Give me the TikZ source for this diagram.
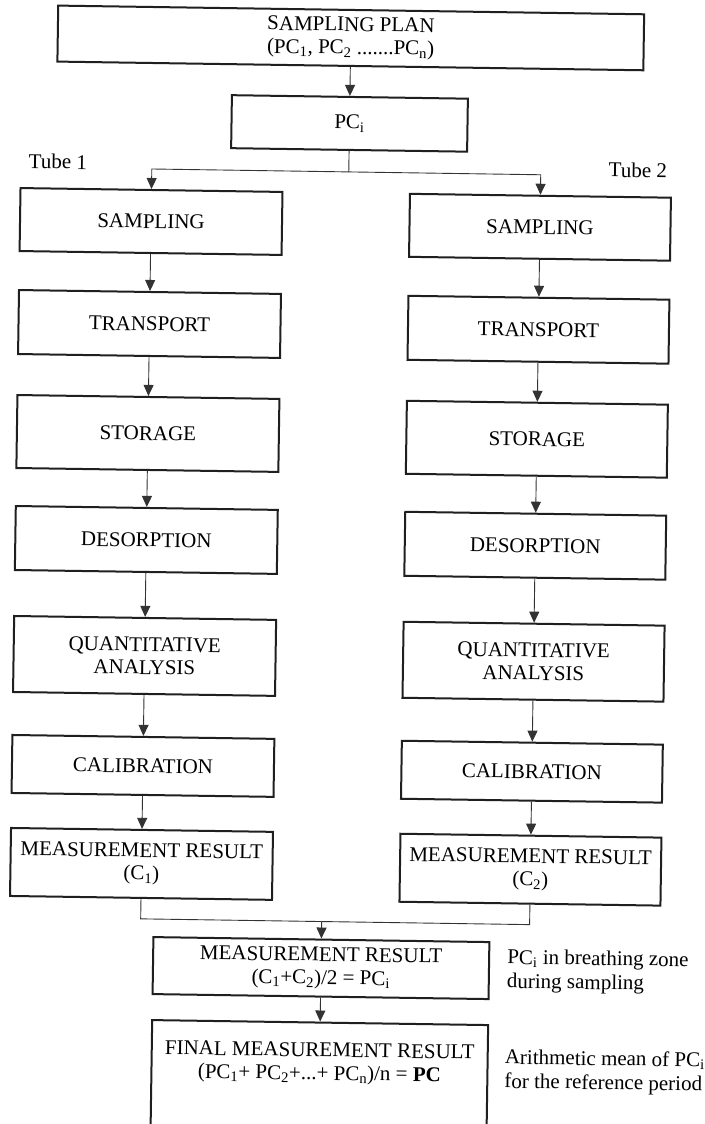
\documentclass[tikz,border=0pt]{standalone}
\usepackage{fontspec}
\setmainfont{Liberation Serif}
\usetikzlibrary{arrows.meta}
\newcommand{\sbx}[1]{\textsubscript{#1}}
\begin{document}
\begin{tikzpicture}[x=1pt,y=-1pt,
  box/.style={draw=black!88, line width=2pt, rectangle, inner sep=0pt, align=center,
              font=\fontsize{21}{23}\selectfont},
  arr/.style={draw=black!80, line width=0.9pt, -{Triangle[width=10pt,length=11pt]}},
  ln/.style={draw=black!80, line width=0.9pt},
  note/.style={font=\fontsize{21}{24}\selectfont, align=left, inner sep=0pt, anchor=west},
  lbl/.style={font=\fontsize{21}{23}\selectfont, inner sep=0pt}]
\fill[white] (0,0) rectangle (704,1124);
\useasboundingbox (0,0) rectangle (704,1124);
\clip (0,0) rectangle (704,1124);
\begin{scope}[rotate around={-0.85:(352,562)}, transform shape]
% top
\node[box, minimum width=586pt, minimum height=56pt] (top) at (343,38)
  {SAMPLING PLAN\\(PC\sbx{1}, PC\sbx{2} .......PC\sbx{n})};
\node[box, minimum width=236pt, minimum height=53pt] (pci) at (343,123.5) {PC\sbx{i}};
\node[lbl] (tube1) at (52,166) {Tube 1};
\node[lbl] (tube2) at (632,166) {Tube 2};
% left column
\node[box, minimum width=262pt, minimum height=63pt] (l1) at (146,224.5) {SAMPLING};
\node[box, minimum width=262pt, minimum height=64pt] (l2) at (146,327) {TRANSPORT};
\node[box, minimum width=262pt, minimum height=73pt] (l3) at (146,436.5) {STORAGE};
\node[box, minimum width=262pt, minimum height=64pt] (l4) at (146,543) {DESORPTION};
\node[box, minimum width=262pt, minimum height=76pt] (l5) at (146,659) {QUANTITATIVE\\ANALYSIS};
\node[box, minimum width=262pt, minimum height=58pt] (l6) at (146,769) {CALIBRATION};
\node[box, minimum width=262pt, minimum height=68pt] (l7) at (146,867) {MEASUREMENT RESULT\\(C\sbx{1})};
% right column
\node[box, minimum width=261pt, minimum height=63pt] (r1) at (535,224.5) {SAMPLING};
\node[box, minimum width=261pt, minimum height=64pt] (r2) at (535,327) {TRANSPORT};
\node[box, minimum width=261pt, minimum height=73pt] (r3) at (535,436.5) {STORAGE};
\node[box, minimum width=261pt, minimum height=64pt] (r4) at (535,543) {DESORPTION};
\node[box, minimum width=261pt, minimum height=76pt] (r5) at (535,659) {QUANTITATIVE\\ANALYSIS};
\node[box, minimum width=261pt, minimum height=58pt] (r6) at (535,769) {CALIBRATION};
\node[box, minimum width=261pt, minimum height=68pt] (r7) at (535,867) {MEASUREMENT RESULT\\(C\sbx{2})};
% bottom
\node[box, minimum width=336pt, minimum height=57pt] (mres) at (327,968.5)
  {MEASUREMENT RESULT\\(C\sbx{1}+C\sbx{2})/2 = PC\sbx{i}};
\node[box, minimum width=336pt, minimum height=120pt] (fin) at (327,1083) {};
\node[lbl, align=center] (fint) at (327,1064)
  {FINAL MEASUREMENT RESULT\\(PC\sbx{1}+ PC\sbx{2}+...+ PC\sbx{n})/n = \textbf{PC}};
\node[note] (note1) at (513,968.5) {PC\sbx{i} in breathing zone\\during sampling};
\node[note] (note2) at (512,1068.5) {Arithmetic mean of PC\sbx{i}\\for the reference period};
% connectors
\coordinate (split) at (343,172);
\coordinate (merge) at (327,922);
\draw[arr] (top.south) -- (pci.north);
\draw[ln] (pci.south) -- (split);
\draw[arr] (split) -| (l1.north);
\draw[arr] (split) -| (r1.north);
\foreach \a/\b in {l1/l2,l2/l3,l3/l4,l4/l5,l5/l6,l6/l7,r1/r2,r2/r3,r3/r4,r4/r5,r5/r6,r6/r7}
  \draw[arr] (\a.south) -- (\b.north);
\draw[ln] (l7.south) |- (merge);
\draw[ln] (r7.south) |- (merge);
\draw[arr] (merge) -- (mres.north);
\draw[arr] (mres.south) -- (fin.north);
\end{scope}
\end{tikzpicture}
\end{document}
